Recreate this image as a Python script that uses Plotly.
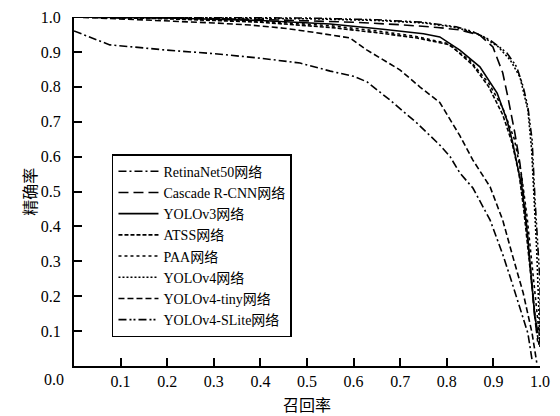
import plotly.graph_objects as go

names = ["RetinaNet50网络", "Cascade R-CNN网络", "YOLOv3网络", "ATSS网络",
         "PAA网络", "YOLOv4网络", "YOLOv4-tiny网络", "YOLOv4-SLite网络"]

retina_r = [0, 0.02, 0.05, 0.077, 0.12, 0.2, 0.3, 0.4, 0.485, 0.55, 0.6, 0.629, 0.678,
            0.736, 0.785, 0.807, 0.828, 0.856, 0.893, 0.92, 0.936, 0.957, 0.974, 0.983]
retina_p = [0.96, 0.95, 0.935, 0.92, 0.915, 0.905, 0.895, 0.882, 0.868, 0.845, 0.83, 0.814, 0.762,
            0.696, 0.633, 0.60, 0.553, 0.51, 0.418, 0.32, 0.255, 0.169, 0.094, 0.017]

cascade_r = [0, 0.2, 0.4, 0.6, 0.7, 0.78, 0.828, 0.871, 0.899, 0.92, 0.931, 0.946, 0.957,
             0.968, 0.978, 0.988, 0.995]
cascade_p = [1.0, 0.998, 0.993, 0.985, 0.978, 0.97, 0.963, 0.948, 0.914, 0.84, 0.771, 0.668, 0.58,
             0.45, 0.3, 0.15, 0.07]

yolov3_r = [0, 0.2, 0.4, 0.55, 0.663, 0.75, 0.785, 0.828, 0.871, 0.908, 0.929, 0.94, 0.961,
            0.972, 0.978, 0.989, 0.996]
yolov3_p = [1.0, 0.997, 0.99, 0.98, 0.965, 0.952, 0.943, 0.905, 0.857, 0.782, 0.705, 0.648, 0.513,
            0.39, 0.304, 0.14, 0.094]

atss_r = [0, 0.2, 0.4, 0.55, 0.65, 0.736, 0.807, 0.856, 0.89, 0.92, 0.94, 0.955, 0.965,
          0.975, 0.985, 0.993, 0.998]
atss_p = [1.0, 0.995, 0.985, 0.97, 0.955, 0.94, 0.92, 0.862, 0.8, 0.72, 0.64, 0.55, 0.45,
          0.33, 0.2, 0.1, 0.06]

paa_r = [0, 0.2, 0.4, 0.55, 0.65, 0.73, 0.8, 0.85, 0.89, 0.92, 0.945, 0.96, 0.972,
         0.982, 0.99, 0.997, 1.0]
paa_p = [1.0, 0.996, 0.988, 0.975, 0.96, 0.945, 0.925, 0.875, 0.81, 0.74, 0.65, 0.55, 0.43,
         0.3, 0.18, 0.1, 0.07]

yolov4_r = [0, 0.3, 0.5, 0.65, 0.75, 0.82, 0.87, 0.91, 0.936, 0.957, 0.974, 0.982, 0.988,
            0.993, 0.997, 1.0]
yolov4_p = [1.0, 0.998, 0.995, 0.99, 0.983, 0.97, 0.95, 0.915, 0.877, 0.828, 0.733, 0.62, 0.48,
            0.33, 0.18, 0.05]

tiny_r = [0, 0.1, 0.2, 0.3, 0.378, 0.45, 0.52, 0.592, 0.629, 0.70, 0.742, 0.785, 0.828, 0.856,
          0.893, 0.92, 0.942, 0.964, 0.983, 0.993]
tiny_p = [1.0, 0.995, 0.99, 0.983, 0.977, 0.968, 0.955, 0.94, 0.905, 0.848, 0.80, 0.755, 0.66, 0.59,
          0.513, 0.418, 0.312, 0.209, 0.094, 0.01]

slite_r = [0, 0.3, 0.5, 0.65, 0.75, 0.82, 0.856, 0.893, 0.929, 0.95, 0.964, 0.974, 0.983,
           0.989, 0.996, 1.0, 1.0]
slite_p = [1.0, 0.999, 0.997, 0.992, 0.985, 0.972, 0.958, 0.934, 0.897, 0.857, 0.8, 0.742, 0.648,
           0.484, 0.312, 0.24, 0.06]

tick_vals = [0.1, 0.2, 0.3, 0.4, 0.5, 0.6, 0.7, 0.8, 0.9, 1.0]
tick_text = ["0.1", "0.2", "0.3", "0.4", "0.5", "0.6", "0.7", "0.8", "0.9", "1.0"]

series_r = [retina_r, cascade_r, yolov3_r, atss_r, paa_r, yolov4_r, tiny_r, slite_r]
series_p = [retina_p, cascade_p, yolov3_p, atss_p, paa_p, yolov4_p, tiny_p, slite_p]
dashes = ["8px,3px,2px,3px", "10px,5px", "solid", "4px,2px", "3px,3px",
          "2px,2px", "6px,3px", "8px,3px,2px,2px,2px,3px"]

FONT = "Liberation Serif, Noto Sans CJK SC, serif"

fig = go.Figure()
for n, r, p, d in zip(names, series_r, series_p, dashes):
    fig.add_trace(go.Scatter(x=r, y=p, mode="lines", name=n,
                             line=dict(color="black", width=1.6, dash=d)))

axis_common = dict(range=[0, 1], showline=True, linecolor="black", linewidth=2,
                   ticks="inside", ticklen=8, tickwidth=1.5, tickcolor="black",
                   tickvals=tick_vals, ticktext=tick_text, showgrid=False, zeroline=False,
                   automargin=False,
                   tickfont=dict(family=FONT, size=16, color="black"))

fig.update_layout(
    width=560, height=416,
    margin=dict(l=74, r=20, t=17, b=50),
    paper_bgcolor="white", plot_bgcolor="white",
    font=dict(family=FONT, color="black"),
    xaxis=dict(**axis_common,
               title=dict(text="召回率", font=dict(family=FONT, size=16), standoff=11)),
    yaxis=dict(**axis_common, ticklabelstandoff=8),
    legend=dict(x=0.0815, y=0.607, xanchor="left", yanchor="top",
                bordercolor="black", borderwidth=1.5, bgcolor="white",
                font=dict(family=FONT, size=14, color="black"),
                itemwidth=40, tracegroupgap=0),
    showlegend=True,
)
fig.add_annotation(text="精确率", xref="paper", yref="paper", x=-0.094, y=0.5,
                   xanchor="center", yanchor="middle", textangle=-90, showarrow=False,
                   font=dict(family=FONT, size=16, color="black"))
fig.add_annotation(text="0.0", xref="paper", yref="paper", x=-0.042, y=-0.04,
                   xanchor="center", yanchor="middle", showarrow=False,
                   font=dict(family=FONT, size=16, color="black"))

fig.write_html("out.html")
